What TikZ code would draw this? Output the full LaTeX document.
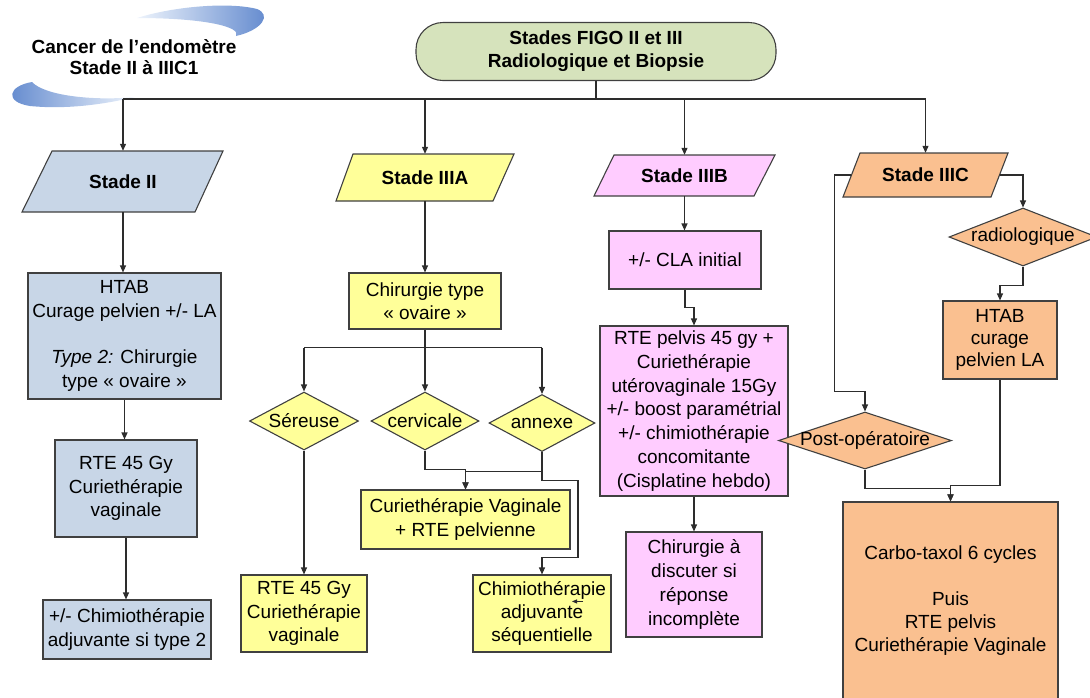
\documentclass[tikz,border=0pt]{standalone}
\usepackage{fontspec}
\setmainfont{Liberation Sans}
\usetikzlibrary{arrows.meta,shapes.geometric,calc}
\definecolor{cblue}{RGB}{200,214,231}
\definecolor{cyel}{RGB}{255,255,153}
\definecolor{cpink}{RGB}{255,204,255}
\definecolor{corange}{RGB}{250,192,144}
\definecolor{cgreen}{RGB}{214,227,188}
\definecolor{cline}{RGB}{45,45,45}
\definecolor{cedge}{RGB}{64,64,64}
\definecolor{swdark}{RGB}{95,135,205}
\definecolor{swlight}{RGB}{238,244,252}
\begin{document}
\begin{tikzpicture}[x=1pt,y=-1pt,
  txt/.style={font=\fontsize{19}{23.3}\selectfont, align=center, inner sep=0pt, text=black},
  box/.style={txt, draw=cedge, line width=1.1pt, rectangle},
  dia/.style={txt, draw=cedge, line width=1.1pt, diamond, inner sep=-4pt},
  para/.style={draw=cedge, line width=1.1pt},
  ptxt/.style={txt, font=\fontsize{19}{23.3}\selectfont\bfseries},
  conn/.style={draw=cline, line width=1.1pt},
  arr/.style={conn, -{Triangle[length=7pt,width=6pt]}},
]
\useasboundingbox (0,0) rectangle (1090,697);
\clip (0,0) rectangle (1090,697);

% decorative swooshes
\shade[left color=swlight, right color=swdark] (137,18) .. controls (175,6) and (230,2) .. (257,9) .. controls (272,15) and (262,30) .. (236,36) .. controls (242,27) and (205,18) .. (137,18) -- cycle;
\shade[left color=swdark, right color=swlight] (135,97) .. controls (95,101) and (45,96) .. (32,82) .. controls (8,86) and (4,102) .. (30,106) .. controls (70,110) and (110,103) .. (135,97) -- cycle;

\node[txt, font=\fontsize{19}{21.5}\selectfont\bfseries] (title) at (134,57) {Cancer de l’endomètre\\Stade II à IIIC1};

\node[box, fill=cgreen, rounded corners=27pt, minimum width=360pt, minimum height=58pt, font=\fontsize{19}{23}\selectfont\bfseries] (top) at (596,51.5) {Stades FIGO II et III\\Radiologique et Biopsie};

% parallelograms
\filldraw[para, fill=cblue] (52,151) -- (223,151) -- (195,212) -- (22,212) -- cycle;
\node[ptxt, minimum width=172pt, minimum height=61pt] (s2) at (123,181.5) {Stade II};
\filldraw[para, fill=cyel] (353,154) -- (514,154) -- (493,201) -- (336,201) -- cycle;
\node[ptxt, minimum width=159pt, minimum height=47pt] (s3a) at (425,177.5) {Stade IIIA};
\filldraw[para, fill=cpink] (614,155) -- (775,155) -- (754,196) -- (594,196) -- cycle;
\node[ptxt, minimum width=160pt, minimum height=41pt] (s3b) at (684.5,175.5) {Stade IIIB};
\filldraw[para, fill=corange] (860,153) -- (1008,153) -- (991,197) -- (843,197) -- cycle;
\node[ptxt, minimum width=148pt, minimum height=44pt] (s3c) at (925.5,175) {Stade IIIC};

% column Stade II
\node[box, fill=cblue, minimum width=193pt, minimum height=126pt] (htab1) at (124.5,336) {HTAB\\Curage pelvien +/- LA\\[23.3pt]\textit{Type 2:} Chirurgie\\type « ovaire »};
\node[box, fill=cblue, minimum width=142pt, minimum height=97pt] (rte1) at (126,488.5) {RTE 45 Gy\\Curiethérapie\\vaginale};
\node[box, fill=cblue, minimum width=168pt, minimum height=59pt] (chimio1) at (127,629.5) {+/- Chimiothérapie\\adjuvante si type 2};

% column Stade IIIA
\node[box, fill=cyel, minimum width=152pt, minimum height=56pt] (chir) at (425,301) {Chirurgie type\\« ovaire »};
\node[dia, fill=cyel, minimum width=109pt, minimum height=58pt, aspect=1.88] (ser) at (304,421) {Séreuse};
\node[dia, fill=cyel, minimum width=108pt, minimum height=58pt, aspect=1.86] (cerv) at (425,421) {cervicale};
\node[dia, fill=cyel, minimum width=106pt, minimum height=57pt, aspect=1.86] (ann) at (542,423) {annexe};
\node[box, fill=cyel, minimum width=126pt, minimum height=77pt] (rte2) at (304,613.5) {RTE 45 Gy\\Curiethérapie\\vaginale};
\node[box, fill=cyel, minimum width=209pt, minimum height=59pt] (curie) at (465.5,519.5) {Curiethérapie Vaginale\\+ RTE pelvienne};
\node[box, fill=cyel, minimum width=138pt, minimum height=77pt] (chimio2) at (542,613.5) {Chimiothérapie\\adjuvante\\séquentielle};

% column Stade IIIB
\node[box, fill=cpink, minimum width=152pt, minimum height=58pt] (cla) at (685,260) {+/- CLA initial};
\node[box, fill=cpink, minimum width=188pt, minimum height=170pt, font=\fontsize{19}{23.7}\selectfont] (rtep) at (694,411) {RTE pelvis 45 gy +\\Curiethérapie\\utérovaginale 15Gy\\+/- boost paramétrial\\+/- chimiothérapie\\concomitante\\(Cisplatine hebdo)};
\node[box, fill=cpink, minimum width=136pt, minimum height=105pt, font=\fontsize{19}{23.7}\selectfont] (chird) at (694,584.5) {Chirurgie à\\discuter si\\réponse\\incomplète};

% column Stade IIIC
\node[dia, fill=corange, minimum width=148pt, minimum height=58pt, aspect=2.55] (rad) at (1023,237) {radiologique};
\node[box, fill=corange, minimum width=114pt, minimum height=78pt, font=\fontsize{19}{22}\selectfont] (htab3) at (1000,340) {HTAB\\curage\\pelvien LA};
\node[dia, fill=corange, minimum width=173pt, minimum height=57pt, aspect=3.03] (postop) at (865,440.5) {Post-opératoire};
\node[box, fill=corange, minimum width=215pt, minimum height=198pt] (carbo) at (950.5,601) {Carbo-taxol 6 cycles\\[22pt]Puis\\RTE pelvis\\Curiethérapie Vaginale};

% top bus
\coordinate (bus) at (596,99);
\draw[conn] (top.south) -- (bus);
\draw[conn] (s2.north |- bus) -- (s3c.north |- bus);
\draw[arr] (s2.north |- bus) -- (s2.north);
\draw[arr] (s3a.north |- bus) -- (s3a.north);
\draw[arr] (s3b.north |- bus) -- (s3b.north);
\draw[arr] (s3c.north |- bus) -- (s3c.north);

% Stade II chain
\draw[arr] (s2.south) -- (s2.south |- htab1.north);
\draw[arr] (htab1.south) -- (htab1.south |- rte1.north);
\draw[arr] (rte1.south) -- (rte1.south |- chimio1.north);

% Stade IIIA chain
\draw[arr] (s3a.south) -- (s3a.south |- chir.north);
\draw[conn] (chir.south) -- ++(0,18) coordinate (b2);
\draw[conn] (ser.north |- b2) -- (ann.north |- b2);
\draw[arr] (ser.north |- b2) -- (ser.north);
\draw[arr] (b2) -- (cerv.north);
\draw[arr] (ann.north |- b2) -- (ann.north);
\draw[arr] (ser.south) -- (rte2.north);
\draw[arr] (cerv.south) -- ++(0,19) -| (curie.north);
\draw[arr] (ann.south) -- ++(0,19) -| (curie.north);
\coordinate (annjog) at ($(chimio2.north)+(36,-17)$);
\draw[arr] (ann.south) -- ++(0,28) -| (annjog) -| (chimio2.north);
\coordinate (strayA) at ($(chimio2.north)+(41,27)$);
\coordinate (strayB) at ($(chimio2.north)+(30,27)$);
\draw[conn, line width=0.8pt, -{Triangle[length=5pt,width=4pt]}] (strayA) -- (strayB);

% Stade IIIB chain
\draw[arr] (s3b.south) -- (s3b.south |- cla.north);
\draw[arr] (cla.south) -- ++(0,18) -| (rtep.north);
\draw[arr] (rtep.south) -- (chird.north);

% Stade IIIC chain
\draw[arr] (s3c.west) -- ++(-16.5,0) |- ($(postop.north)+(0,-20)$) -- (postop.north);
\draw[arr] (s3c.east) -| (rad.north);
\draw[arr] (rad.south) -- ++(0,19) -| (htab3.north);
\draw[arr] (postop.south) -- ++(0,19) -| (carbo.north);
\draw[arr] (htab3.south) |- ($(carbo.north)+(0,-16)$) -- (carbo.north);
\end{tikzpicture}
\end{document}
